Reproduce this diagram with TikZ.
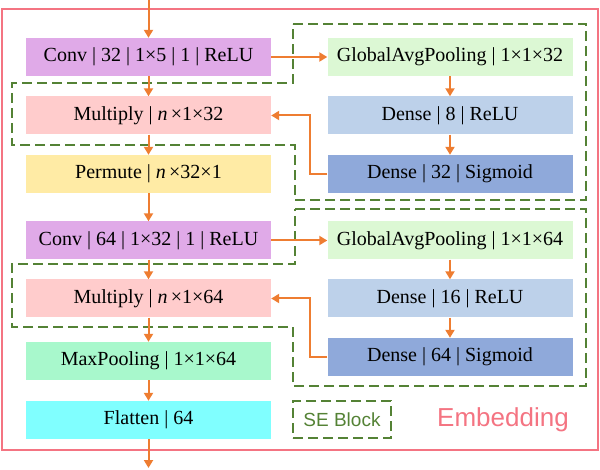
\documentclass[tikz,border=0pt]{standalone}
\usepackage{fontspec}
\setmainfont{Liberation Serif}
\newfontfamily\sansf{Liberation Sans}
\usetikzlibrary{arrows.meta}
\definecolor{conv}{HTML}{E0AAE8}
\definecolor{gap}{HTML}{DCF8D4}
\definecolor{dA}{HTML}{BDD1EA}
\definecolor{dB}{HTML}{8FA9DA}
\definecolor{mul}{HTML}{FFCCCC}
\definecolor{perm}{HTML}{FFEBA5}
\definecolor{maxp}{HTML}{A8F8CC}
\definecolor{flat}{HTML}{80FFFF}
\definecolor{arr}{HTML}{EE7D31}
\definecolor{seg}{HTML}{548235}
\definecolor{emb}{HTML}{F47482}
\begin{document}
\begin{tikzpicture}[x=1pt,y=-1pt,
  box/.style={draw=none,minimum width=245pt,minimum height=38pt,inner sep=0pt,font=\fontsize{20}{22}\selectfont},
  ar/.style={draw=arr,line width=2pt,-{Triangle[length=8pt,width=9pt]}},
  se/.style={draw=seg,line width=1.8pt,dash pattern=on 10pt off 5pt}]
\useasboundingbox (0,0) rectangle (600,470);
\draw[emb,line width=1.8pt] (2,9) rectangle (598,450);
\draw[se] (293,24) -- (586,24) -- (586,200) -- (295,200) -- (295,145) -- (12,145) -- (12,83) -- (293,83) -- cycle;
\draw[se] (295,209) -- (586,209) -- (586,386) -- (293,386) -- (293,327) -- (12,327) -- (12,264) -- (295,264) -- cycle;
\node[box,fill=conv] (c1) at (148.5,57) {Conv | 32 | 1×5 | 1 | ReLU};
\node[box,fill=mul] (m1) at (148.5,115.5) {Multiply | \textit{n}\,×1×32};
\node[box,fill=perm] (p) at (148.5,174) {Permute | \textit{n}\,×32×1};
\node[box,fill=conv] (c2) at (148.5,240.5) {Conv | 64 | 1×32 | 1 | ReLU};
\node[box,fill=mul] (m2) at (148.5,298.5) {Multiply | \textit{n}\,×1×64};
\node[box,fill=maxp] (mp) at (148.5,361) {MaxPooling | 1×1×64};
\node[box,fill=flat] (f) at (148.5,420) {Flatten | 64};
\node[box,fill=gap] (g1) at (450,57) {GlobalAvgPooling | 1×1×32};
\node[box,fill=dA] (d1) at (450,115.5) {Dense | 8 | ReLU};
\node[box,fill=dB] (e1) at (450,174) {Dense | 32 | Sigmoid};
\node[box,fill=gap] (g2) at (450,240.5) {GlobalAvgPooling | 1×1×64};
\node[box,fill=dA] (d2) at (450,298.5) {Dense | 16 | ReLU};
\node[box,fill=dB] (e2) at (450,357) {Dense | 64 | Sigmoid};
\coordinate (top) at (148.5,0);
\coordinate (bot) at (148.5,468);
\draw[ar] (top) -- (c1);
\draw[ar] (c1) -- (m1);
\draw[ar] (m1) -- (p);
\draw[ar] (p) -- (c2);
\draw[ar] (c2) -- (m2);
\draw[ar] (m2) -- (mp);
\draw[ar] (mp) -- (f);
\draw[ar] (f) -- (bot);
\draw[ar] (c1) -- (g1);
\draw[ar] (g1) -- (d1);
\draw[ar] (d1) -- (e1);
\draw[ar] (c2) -- (g2);
\draw[ar] (g2) -- (d2);
\draw[ar] (d2) -- (e2);
\draw[ar] (e1.west) -- (310,174) -- (310,115.5) -- (m1.east);
\draw[ar] (e2.west) -- (310,357) -- (310,298.5) -- (m2.east);
\node[se,minimum width=98pt,minimum height=37pt,text=seg,font=\sansf\fontsize{19}{21}\selectfont] (leg) at (342,419.5) {SE Block};
\node[text=emb,font=\sansf\fontsize{26}{28}\selectfont] (embl) at (503,420) {Embedding};
\end{tikzpicture}
\end{document}
